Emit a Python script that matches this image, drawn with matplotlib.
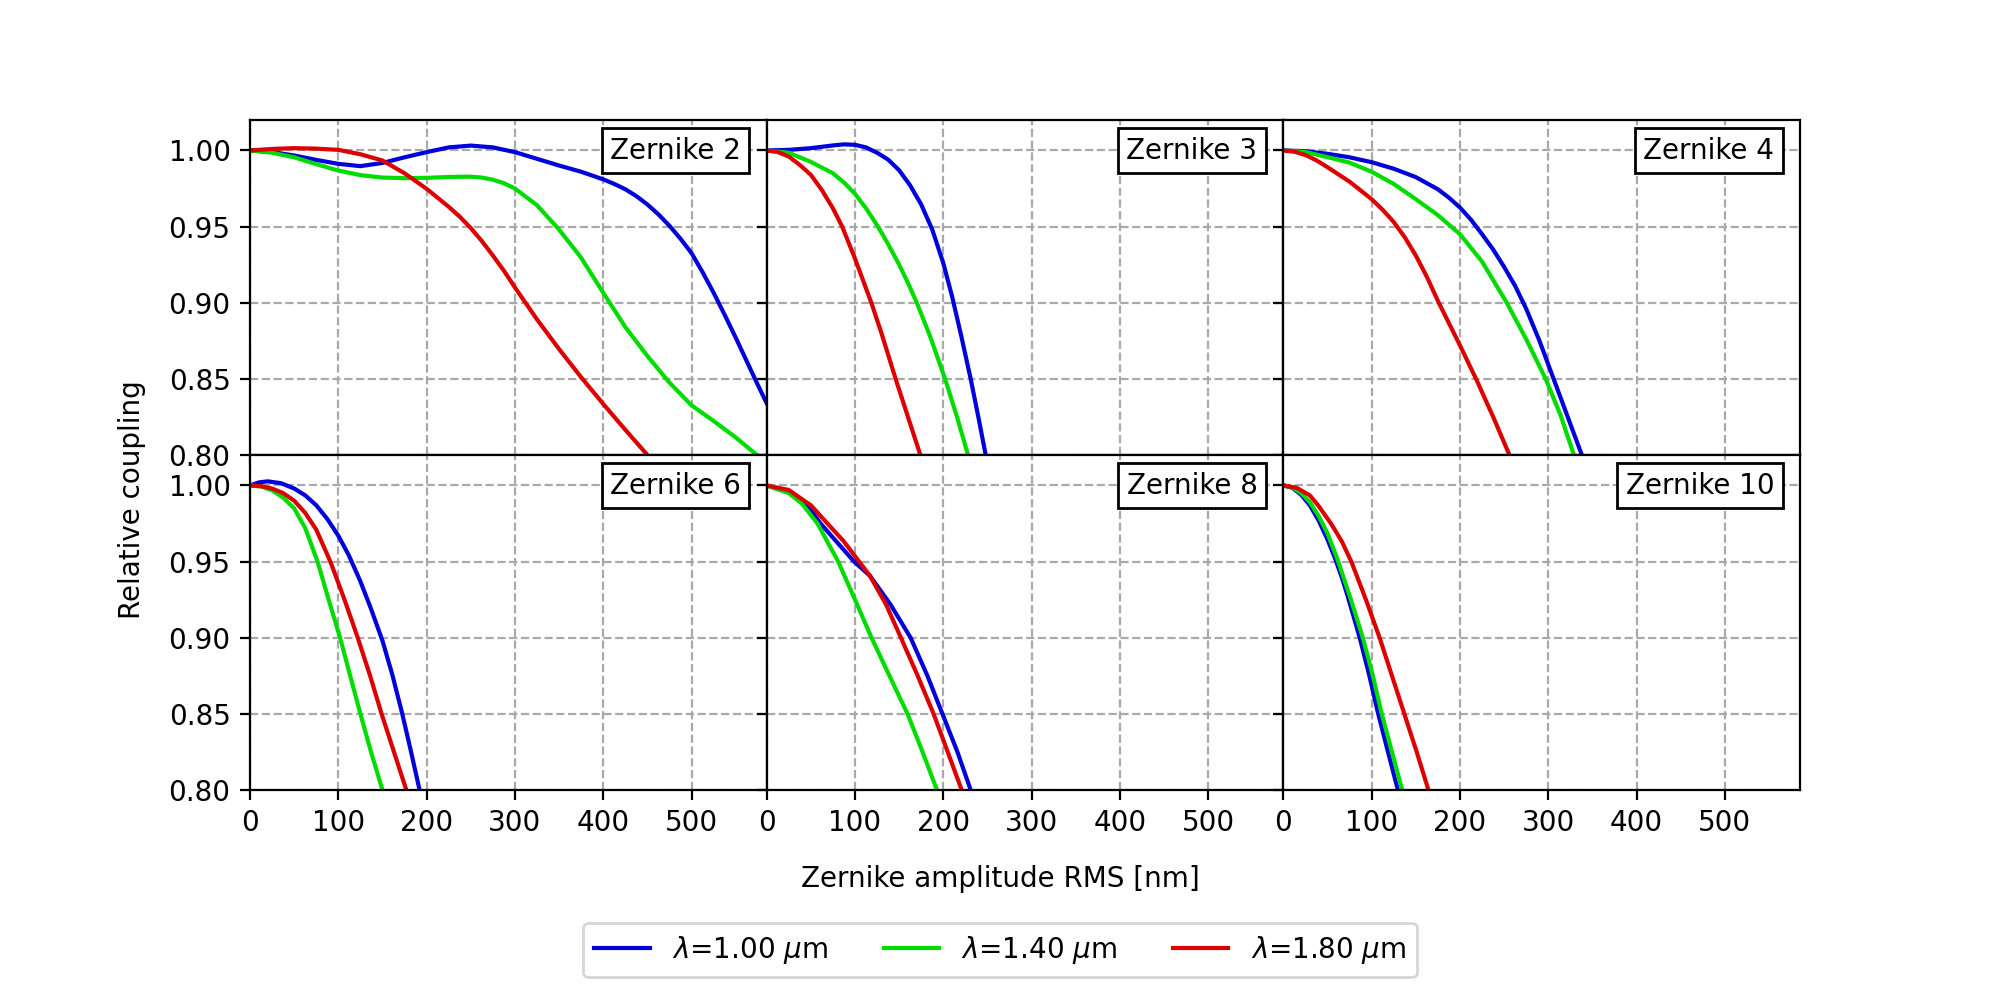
import matplotlib
matplotlib.use("Agg")
import matplotlib.pyplot as plt

# wavelengths and their colours
WAVELENGTHS = ["1.00", "1.40", "1.80"]
COLORS = ["#0000dc", "#00dc00", "#dc0000"]
MODES = [2, 3, 4, 6, 8, 10]

# --- Zernike 2 ---
Z2_X_100 = [0, 25, 50, 75, 100, 125, 150, 175, 200, 225, 250, 275, 300, 325,
            350, 375, 400, 412.5, 425, 437.5, 450, 462.5, 475, 487.5, 500,
            512.5, 525, 537.5, 550, 575, 585]
Z2_Y_100 = [1.000, 0.9990, 0.9967, 0.9938, 0.9912, 0.9897, 0.9918, 0.9955,
            0.9989, 1.0020, 1.0032, 1.0020, 0.9989, 0.9945, 0.9901, 0.9860,
            0.9810, 0.9780, 0.9745, 0.9700, 0.9645, 0.9580, 0.9505, 0.9420,
            0.9325, 0.9200, 0.9065, 0.8920, 0.8770, 0.8460, 0.8340]
Z2_X_140 = [0, 25, 50, 75, 100, 125, 150, 175, 200, 225, 250, 262.5, 275,
            287.5, 300, 325, 350, 375, 400, 425, 450, 475, 500, 525, 550, 575]
Z2_Y_140 = [1.000, 0.9985, 0.9955, 0.9910, 0.9868, 0.9838, 0.9822, 0.9818,
            0.9820, 0.9826, 0.9828, 0.9822, 0.9808, 0.9785, 0.9750, 0.9640,
            0.9480, 0.9295, 0.9065, 0.8840, 0.8650, 0.8475, 0.8326, 0.8223,
            0.8115, 0.7995]
Z2_X_180 = [0, 25, 50, 75, 100, 125, 150, 175, 200, 225, 237.5, 250, 262.5,
            275, 287.5, 300, 325, 350, 375, 400, 425, 450, 460]
Z2_Y_180 = [1.000, 1.0010, 1.0015, 1.0012, 1.0004, 0.9975, 0.9934, 0.9850,
            0.9748, 0.9630, 0.9565, 0.9490, 0.9405, 0.9310, 0.9210, 0.9100,
            0.8890, 0.8695, 0.8510, 0.8335, 0.8165, 0.8000, 0.7935]

# --- Zernike 3 ---
Z3_X_100 = [0, 25, 50, 75, 87.5, 100, 112.5, 125, 137.5, 150, 162.5, 175,
            187.5, 200, 210, 220, 231, 240, 248, 252]
Z3_Y_100 = [1.000, 1.0004, 1.0015, 1.0033, 1.0040, 1.0037, 1.0020, 0.9985,
            0.9940, 0.9870, 0.9770, 0.9645, 0.9480, 0.9260, 0.9040, 0.8790,
            0.8500, 0.8240, 0.8000, 0.7870]
Z3_X_140 = [0, 25, 50, 75, 87.5, 100, 112.5, 126, 138, 150, 160, 170, 185,
            202, 215, 228, 232]
Z3_Y_140 = [1.000, 0.9985, 0.9925, 0.9850, 0.9790, 0.9715, 0.9620, 0.9500,
            0.9380, 0.9250, 0.9130, 0.9000, 0.8780, 0.8500, 0.8260, 0.8000,
            0.7910]
Z3_X_180 = [0, 12.5, 25, 37.5, 50, 62.5, 75, 85.5, 100, 118.5, 130, 146, 160,
            174, 178]
Z3_Y_180 = [1.000, 0.9990, 0.9960, 0.9905, 0.9840, 0.9740, 0.9620, 0.9500,
            0.9290, 0.9000, 0.8800, 0.8500, 0.8250, 0.8000, 0.7930]

# --- Zernike 4 ---
Z4_X_100 = [0, 25, 50, 75, 100, 125, 150, 175, 187.5, 200, 212.5, 225, 237.5,
            250, 262.5, 275, 290, 306, 322, 338, 342]
Z4_Y_100 = [1.000, 0.9995, 0.9978, 0.9955, 0.9923, 0.9880, 0.9825, 0.9745,
            0.9690, 0.9625, 0.9545, 0.9450, 0.9350, 0.9235, 0.9110, 0.8960,
            0.8750, 0.8500, 0.8250, 0.8000, 0.7940]
Z4_X_140 = [0, 25, 50, 75, 100, 125, 150, 175, 200, 225, 253, 275, 297, 314,
            329, 333]
Z4_Y_140 = [1.000, 0.9990, 0.9956, 0.9920, 0.9860, 0.9780, 0.9680, 0.9575,
            0.9450, 0.9270, 0.9000, 0.8760, 0.8500, 0.8260, 0.8000, 0.7930]
Z4_X_180 = [0, 12.5, 25, 37.5, 50, 75, 100, 112.5, 125, 137.5, 150, 162.5,
            176, 200, 219, 238, 256, 260]
Z4_Y_180 = [1.000, 0.9992, 0.9970, 0.9935, 0.9890, 0.9795, 0.9680, 0.9610,
            0.9530, 0.9430, 0.9310, 0.9170, 0.9000, 0.8720, 0.8490, 0.8245,
            0.8000, 0.7940]

# --- Zernike 6 ---
Z6_X_100 = [0, 10, 20, 35, 50, 62.5, 75, 87.5, 100, 112, 125, 137, 150, 161,
            172, 182, 192, 195]
Z6_Y_100 = [1.000, 1.0020, 1.0027, 1.0015, 0.9980, 0.9935, 0.9870, 0.9780,
            0.9670, 0.9540, 0.9370, 0.9190, 0.8980, 0.8760, 0.8510, 0.8260,
            0.8000, 0.7920]
Z6_X_140 = [0, 12.5, 25, 37.5, 50, 62.5, 76.5, 89, 102, 113, 125, 137, 150, 153]
Z6_Y_140 = [1.000, 0.9993, 0.9968, 0.9920, 0.9850, 0.9720, 0.9500, 0.9250,
            0.9000, 0.8760, 0.8500, 0.8250, 0.8000, 0.7940]
Z6_X_180 = [0, 12.5, 25, 37.5, 50, 62.5, 75, 91, 107, 122, 136, 149, 163,
            177, 180]
Z6_Y_180 = [1.000, 0.9995, 0.9980, 0.9950, 0.9900, 0.9820, 0.9710, 0.9500,
            0.9250, 0.9000, 0.8750, 0.8500, 0.8250, 0.8000, 0.7950]

# --- Zernike 8 ---
Z8_X_100 = [0, 25, 45, 61, 80, 99, 117, 140, 163, 182, 199, 216, 231, 234]
Z8_Y_100 = [1.000, 0.9955, 0.9880, 0.975, 0.9625, 0.950, 0.9406, 0.922,
            0.900, 0.875, 0.850, 0.825, 0.800, 0.794]
Z8_X_140 = [0, 25, 40, 57.5, 81, 100, 118.7, 139, 159.5, 176.5, 192.8, 196]
Z8_Y_140 = [1.000, 0.9950, 0.9880, 0.975, 0.950, 0.925, 0.900, 0.875,
            0.850, 0.825, 0.800, 0.794]
Z8_X_180 = [0, 25, 50, 68.8, 87, 104.7, 117, 135, 152, 171, 189, 205, 220.8, 224]
Z8_Y_180 = [1.000, 0.9970, 0.9870, 0.975, 0.9635, 0.950, 0.9406, 0.922,
            0.900, 0.875, 0.850, 0.825, 0.800, 0.794]

# --- Zernike 10 ---
Z10_X_100 = [0, 10, 20, 30, 40, 50, 58, 66, 72.5, 86.5, 97, 107, 118.5,
             129.7, 133]
Z10_Y_100 = [1.000, 0.9985, 0.9940, 0.9870, 0.9770, 0.9645, 0.9530, 0.9400,
             0.9280, 0.9000, 0.8760, 0.8510, 0.8250, 0.8000, 0.7930]
Z10_X_140 = [0, 10, 20, 30, 40, 50, 61, 76, 90, 101, 111, 123, 134.6, 138]
Z10_Y_140 = [1.000, 0.9988, 0.9950, 0.9890, 0.9800, 0.9685, 0.9520, 0.9260,
             0.9000, 0.8760, 0.8510, 0.8250, 0.8000, 0.7930]
Z10_X_180 = [0, 15, 30, 40, 54.5, 66, 77, 93.5, 109, 123, 137, 151, 164.3, 167]
Z10_Y_180 = [1.000, 0.9985, 0.9935, 0.9865, 0.9745, 0.9635, 0.9500, 0.9250,
             0.9000, 0.8750, 0.8500, 0.8250, 0.8000, 0.7950]

SERIES = {
    2: [(Z2_X_100, Z2_Y_100), (Z2_X_140, Z2_Y_140), (Z2_X_180, Z2_Y_180)],
    3: [(Z3_X_100, Z3_Y_100), (Z3_X_140, Z3_Y_140), (Z3_X_180, Z3_Y_180)],
    4: [(Z4_X_100, Z4_Y_100), (Z4_X_140, Z4_Y_140), (Z4_X_180, Z4_Y_180)],
    6: [(Z6_X_100, Z6_Y_100), (Z6_X_140, Z6_Y_140), (Z6_X_180, Z6_Y_180)],
    8: [(Z8_X_100, Z8_Y_100), (Z8_X_140, Z8_Y_140), (Z8_X_180, Z8_Y_180)],
    10: [(Z10_X_100, Z10_Y_100), (Z10_X_140, Z10_Y_140), (Z10_X_180, Z10_Y_180)],
}

XTICKS = [0, 100, 200, 300, 400, 500]
YTICKS = [0.80, 0.85, 0.90, 0.95, 1.00]

fig, axes = plt.subplots(2, 3, sharex=True, sharey=True, figsize=(10, 5), dpi=200)
plt.subplots_adjust(left=0.125, right=0.9, top=0.88, bottom=0.21,
                    wspace=0, hspace=0)

handles = []
for ax, mode in zip(axes.flat, MODES):
    for (x, y), wl, c in zip(SERIES[mode], WAVELENGTHS, COLORS):
        ln, = ax.plot(x, y, color=c, lw=1.5,
                      label=rf"$\lambda$={wl} $\mu$m")
        if mode == 2:
            handles.append(ln)
    ax.text(0.95, 0.95, f"Zernike {mode}", transform=ax.transAxes,
            ha="right", va="top", fontsize=10,
            bbox=dict(boxstyle="square,pad=0.3", fc="white", ec="black", lw=1))
    ax.grid(True, ls="--", color="darkgray", lw=0.8)
    ax.set_xlim(0, 585)
    ax.set_ylim(0.80, 1.02)
    ax.set_xticks(XTICKS)
    ax.set_yticks(YTICKS)
    ax.set_yticklabels([f"{v:.2f}" for v in YTICKS])

fig.text(0.5, 0.121, "Zernike amplitude RMS [nm]", ha="center", va="center",
         fontsize=10)
fig.text(0.066, 0.5, "Relative coupling", rotation=90, ha="center",
         va="center", fontsize=10)
fig.legend(handles=handles, loc="center", bbox_to_anchor=(0.5, 0.05),
           ncol=3, fontsize=10)

plt.savefig("out.png", dpi=200)
